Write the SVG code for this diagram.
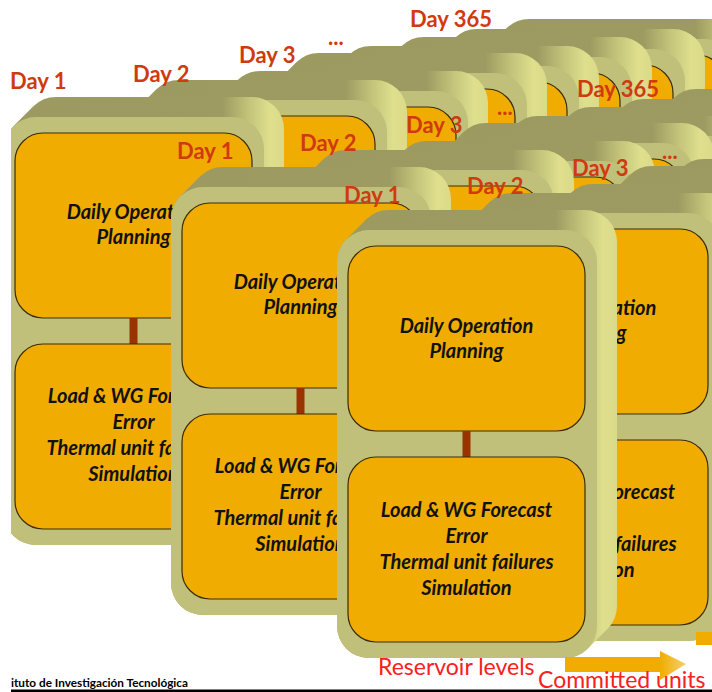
<svg xmlns="http://www.w3.org/2000/svg" xmlns:xlink="http://www.w3.org/1999/xlink" width="712" height="692" viewBox="0 0 712 692">
<style>
.day{font-family:Lato,"Liberation Sans",sans-serif;font-weight:bold;font-size:22px;fill:#D03A10}
.ct{font-family:Lato,"Liberation Sans",sans-serif;font-weight:bold;font-style:italic;font-size:20px;fill:#111;text-anchor:middle}
.red{font-family:Lato,"Liberation Sans",sans-serif;font-size:23px;fill:#F82020}
.foot{font-family:Lato,"Liberation Sans",sans-serif;font-weight:bold;font-size:11.5px;fill:#000}
.box{fill:#F0AC00;stroke:#3A2C0A;stroke-width:1.2}
</style>
<defs>
<linearGradient id="slab" x1="0" y1="0" x2="1" y2="0">
<stop offset="0" stop-color="#B2B06E"/>
<stop offset="0.06" stop-color="#9C9A60"/>
<stop offset="0.78" stop-color="#9D9B61"/>
<stop offset="0.88" stop-color="#C6C67C"/>
<stop offset="0.95" stop-color="#DFDF8E"/>
<stop offset="1" stop-color="#DADA88"/>
</linearGradient>
<linearGradient id="ah" x1="0" y1="0" x2="1" y2="0">
<stop offset="0" stop-color="#F0AC00"/>
<stop offset="1" stop-color="#F6D070"/>
</linearGradient>
<g id="card">
<path d="M9.37 9.37 L29.37 -10.63 A32 32 0 0 1 52 -20 H248 A32 32 0 0 1 280 12 V376 A32 32 0 0 1 270.63 398.63 L250.63 418.63 A32 32 0 0 1 228 428 H32 A32 32 0 0 1 0 396 V32 A32 32 0 0 1 9.37 9.37 Z" fill="url(#slab)"/>
<rect x="0" y="0" width="260" height="428" rx="32" fill="#C0C07A"/>
<rect class="box" x="11" y="16" width="237" height="185" rx="28"/>
<rect x="125.5" y="201" width="8" height="26" fill="#993300"/>
<rect class="box" x="11" y="227" width="237" height="185" rx="28"/>
</g>
</defs>
<rect width="712" height="692" fill="#fff"/>

<g id="stack1">
<g id="s1-day365"><use xlink:href="#card" x="477" y="39"/></g>
<g id="s1-card7"><use xlink:href="#card" x="425" y="49"/></g>
<g id="s1-card6"><use xlink:href="#card" x="372" y="57"/></g>
<g id="s1-card5"><use xlink:href="#card" x="319" y="66"/></g>
<g id="s1-card4"><use xlink:href="#card" x="267" y="73"/></g>
<g id="s1-day3"><use xlink:href="#card" x="208" y="91"/></g>
<g id="s1-day2"><use xlink:href="#card" x="127" y="100"/></g>
<g id="s1-day1"><use xlink:href="#card" x="4" y="117"/>
<text class="ct" x="133.5" y="219">Daily Operation</text>
<text class="ct" x="133.5" y="244">Planning</text>
<text class="ct" x="133.5" y="403">Load &amp; WG Forecast</text>
<text class="ct" x="133.5" y="429">Error</text>
<text class="ct" x="133.5" y="455">Thermal unit failures</text>
<text class="ct" x="133.5" y="481">Simulation</text>
</g>
</g>
<rect x="0" y="0" width="11" height="692" fill="#fff"/>
<g id="labels1">
<text class="day" x="10" y="89">Day 1</text>
<text class="day" x="133" y="82">Day 2</text>
<text class="day" x="239" y="63">Day 3</text>
<text class="day" x="328" y="45">...</text>
<text class="day" x="410" y="27">Day 365</text>
</g>

<g id="stack2">
<g id="s2-day365"><use xlink:href="#card" x="644" y="109"/></g>
<g id="s2-card7"><use xlink:href="#card" x="592" y="119"/></g>
<g id="s2-card6"><use xlink:href="#card" x="539" y="127"/></g>
<g id="s2-card5"><use xlink:href="#card" x="486" y="136"/></g>
<g id="s2-card4"><use xlink:href="#card" x="434" y="143"/></g>
<g id="s2-day3"><use xlink:href="#card" x="375" y="161"/></g>
<g id="s2-day2"><use xlink:href="#card" x="294" y="170"/></g>
<g id="s2-day1"><use xlink:href="#card" x="171" y="187"/>
<text class="ct" x="300.5" y="289">Daily Operation</text>
<text class="ct" x="300.5" y="314">Planning</text>
<text class="ct" x="300.5" y="473">Load &amp; WG Forecast</text>
<text class="ct" x="300.5" y="499">Error</text>
<text class="ct" x="300.5" y="525">Thermal unit failures</text>
<text class="ct" x="300.5" y="551">Simulation</text>
</g>
</g>
<g id="labels2">
<text class="day" x="177" y="159">Day 1</text>
<text class="day" x="300" y="151">Day 2</text>
<text class="day" x="406" y="133">Day 3</text>
<text class="day" x="497" y="115">...</text>
<text class="day" x="577" y="97">Day 365</text>
</g>

<g id="stack3">
<g id="s3-card6"><use xlink:href="#card" x="705" y="170"/></g>
<g id="s3-card5"><use xlink:href="#card" x="652" y="179"/></g>
<g id="s3-card4"><use xlink:href="#card" x="600" y="186"/></g>
<g id="s3-day3"><use xlink:href="#card" x="541" y="204"/></g>
<g id="s3-day2"><use xlink:href="#card" x="460" y="213"/>
<text class="ct" x="589.5" y="315">Daily Operation</text>
<text class="ct" x="589.5" y="340">Planning</text>
<text class="ct" x="589.5" y="499">Load &amp; WG Forecast</text>
<text class="ct" x="589.5" y="525">Error</text>
<text class="ct" x="589.5" y="551">Thermal unit failures</text>
<text class="ct" x="589.5" y="577">Simulation</text>
</g>
<g id="s3-day1"><use xlink:href="#card" x="337" y="230"/>
<text class="ct" x="466.5" y="333">Daily Operation</text>
<text class="ct" x="466.5" y="358">Planning</text>
<text class="ct" x="466.5" y="517">Load &amp; WG Forecast</text>
<text class="ct" x="466.5" y="543">Error</text>
<text class="ct" x="466.5" y="569">Thermal unit failures</text>
<text class="ct" x="466.5" y="595">Simulation</text>
</g>
</g>
<g id="labels3">
<text class="day" x="344" y="203">Day 1</text>
<text class="day" x="467" y="194">Day 2</text>
<text class="day" x="572" y="176">Day 3</text>
<text class="day" x="662" y="159">...</text>
</g>

<g id="connectors">
<rect x="565" y="657" width="96" height="15" fill="#F0AC00"/>
<polygon points="660,651 686,664 660,680" fill="url(#ah)"/>
<rect x="696" y="632" width="16" height="13" fill="#F0AC00"/>
</g>

<g id="footer">
<text class="red" x="378" y="675">Reservoir levels</text>
<text class="red" x="538" y="688">Committed units</text>
<text class="foot" x="11" y="687" textLength="177" lengthAdjust="spacingAndGlyphs">ituto de Investigación Tecnológica</text>
<rect x="11" y="689.5" width="701" height="2.5" fill="#000"/>
</g>
</svg>
